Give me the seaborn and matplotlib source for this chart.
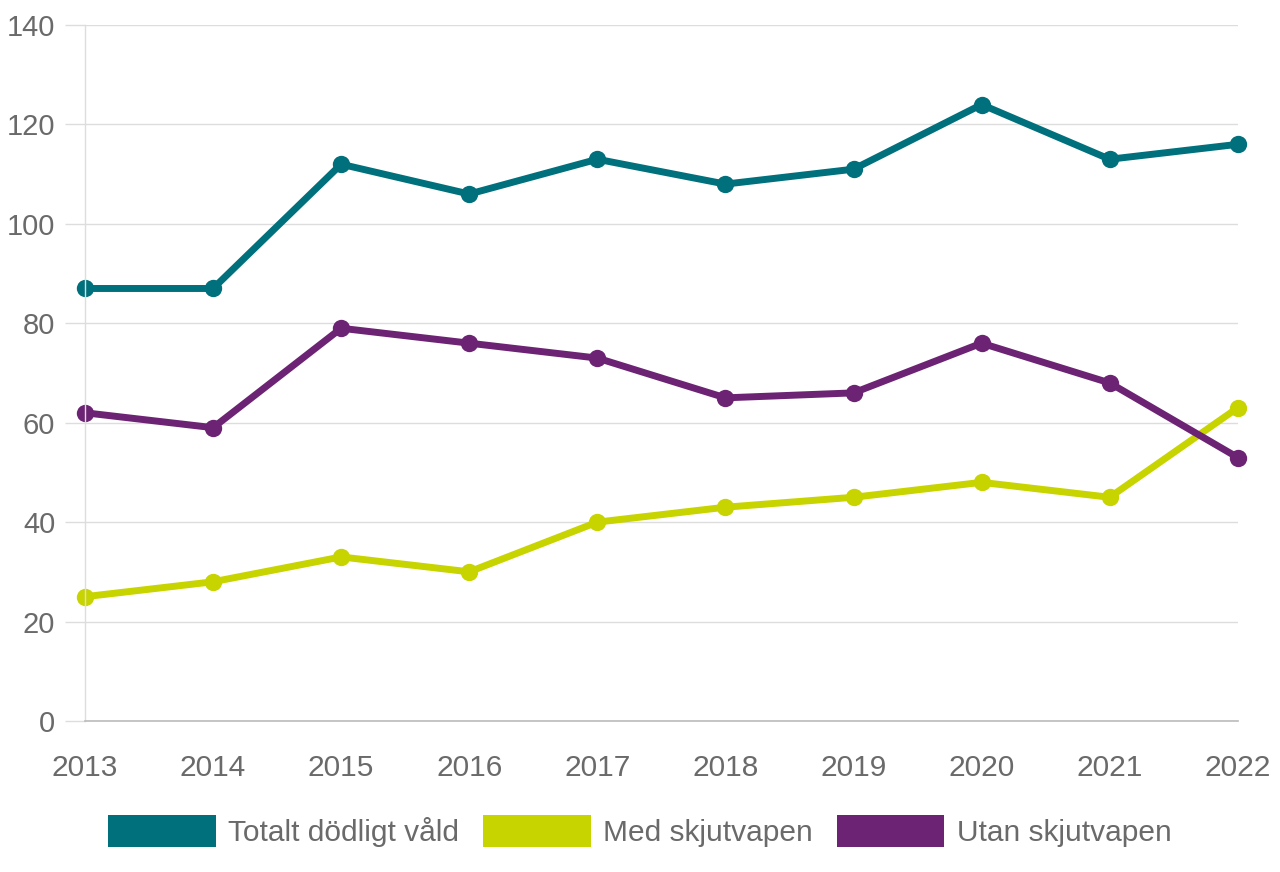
import pandas as pd
import seaborn as sns
import matplotlib.pyplot as plt
from matplotlib.patches import Patch

years = [2013, 2014, 2015, 2016, 2017, 2018, 2019, 2020, 2021, 2022]
totalt = [87, 87, 112, 106, 113, 108, 111, 124, 113, 116]
med_skjutvapen = [25, 28, 33, 30, 40, 43, 45, 48, 45, 63]
utan_skjutvapen = [62, 59, 79, 76, 73, 65, 66, 76, 68, 53]

series_names = ["Totalt dödligt våld", "Med skjutvapen", "Utan skjutvapen"]
colors = ["#00707C", "#C8D400", "#6C2373"]
y_ticks = [0, 20, 40, 60, 80, 100, 120, 140]


def main():
    df = pd.DataFrame({"År": years * 3,
                       "Antal": totalt + med_skjutvapen + utan_skjutvapen,
                       "Serie": [n for n in series_names for _ in years]})

    sns.set_style("white")
    plt.rcParams["font.family"] = ["Liberation Sans", "DejaVu Sans"]
    text_color = "#6a6a6a"

    fig = plt.figure(figsize=(12.8, 8.72), dpi=100)
    ax = fig.add_axes([0.0664, 0.1732, 0.9006, 0.7981])

    sns.lineplot(data=df, x="År", y="Antal", hue="Serie", hue_order=series_names,
                 palette=colors, marker="o", markersize=12.5, markeredgewidth=0,
                 linewidth=5, ax=ax, legend=False)
    for line in ax.lines:
        line.set_clip_on(False)

    ax.set_xlim(2013, 2022)
    ax.set_ylim(0, 140)
    ax.set_xticks(years)
    ax.set_yticks(y_ticks)
    ax.set_xlabel("")
    ax.set_ylabel("")

    ax.yaxis.grid(True, color="#dddddd", linewidth=1)
    ax.set_axisbelow(True)
    for side in ["top", "right"]:
        ax.spines[side].set_visible(False)
    ax.spines["left"].set_color("#dddddd")
    ax.spines["left"].set_linewidth(1)
    ax.spines["bottom"].set_color("#bbbbbb")
    ax.spines["bottom"].set_linewidth(1.2)

    ax.tick_params(axis="y", length=14.4, width=1, color="#dddddd", pad=7,
                   labelsize=21, labelcolor=text_color, left=True)
    ax.tick_params(axis="x", length=0, pad=24, labelsize=21.5, labelcolor=text_color)

    handles = [Patch(facecolor=c, edgecolor="none", label=n) for c, n in zip(colors, series_names)]
    fig.legend(handles=handles, loc="center", bbox_to_anchor=(0.5, 0.047), ncol=3,
               frameon=False, fontsize=21.5, handlelength=3.6, handleheight=1.25,
               handletextpad=0.42, columnspacing=0.8, labelcolor=text_color)

    fig.savefig("out.png", dpi=100)
    plt.close()


if __name__ == '__main__':
    main()
